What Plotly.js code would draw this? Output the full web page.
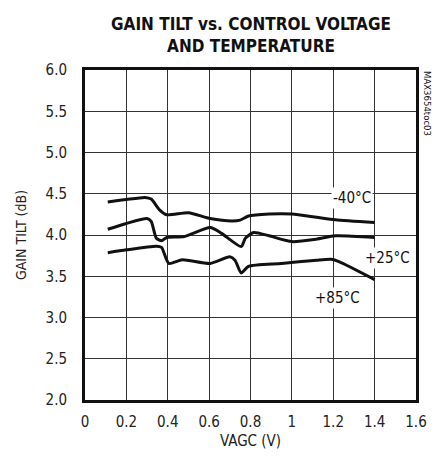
<!DOCTYPE html>
<html>
<head>
<meta charset="utf-8">
<script src="https://cdn.plot.ly/plotly-3.0.1.min.js"></script>
<style>html,body{margin:0;padding:0;background:#fff;}#chart{width:438px;height:462px;}</style>
</head>
<body>
<div id="chart"></div>
<script>
// -40°C
const xM40 = [0.11, 0.20, 0.29, 0.32, 0.36, 0.395, 0.50, 0.605, 0.71, 0.75, 0.79, 0.89, 1.00, 1.12, 1.21, 1.40];
const yM40 = [4.40, 4.43, 4.455, 4.435, 4.305, 4.245, 4.27, 4.20, 4.17, 4.18, 4.23, 4.255, 4.255, 4.215, 4.185, 4.15];
// +25°C
const xP25 = [0.11, 0.20, 0.30, 0.32, 0.345, 0.37, 0.395, 0.48, 0.605, 0.66, 0.755, 0.775, 0.815, 0.89, 1.00, 1.12, 1.21, 1.40];
const yP25 = [4.07, 4.14, 4.20, 4.165, 3.96, 3.93, 3.97, 3.98, 4.09, 4.02, 3.86, 3.96, 4.03, 3.99, 3.92, 3.95, 3.99, 3.97];
// +85°C
const xP85 = [0.11, 0.20, 0.345, 0.37, 0.405, 0.47, 0.605, 0.70, 0.725, 0.755, 0.79, 0.95, 1.12, 1.19, 1.23, 1.40];
const yP85 = [3.785, 3.82, 3.865, 3.85, 3.655, 3.70, 3.655, 3.735, 3.695, 3.54, 3.62, 3.655, 3.695, 3.705, 3.675, 3.46];

const seriesNames = ["-40°C", "+25°C", "+85°C"];
const labelX = [1.29, 1.46, 1.22];
const labelY = [4.45, 3.72, 3.24];

const xTicks = [0, 0.2, 0.4, 0.6, 0.8, 1, 1.2, 1.4, 1.6];
const xTickText = ["0", "0.2", "0.4", "0.6", "0.8", "1", "1.2", "1.4", "1.6"];
const yTicks = [2.0, 2.5, 3.0, 3.5, 4.0, 4.5, 5.0, 5.5, 6.0];
const yTickText = ["2.0", "2.5", "3.0", "3.5", "4.0", "4.5", "5.0", "5.5", "6.0"];

const FONT = "'DejaVu Sans Condensed', 'Liberation Sans Narrow', 'DejaVu Sans', Arial, sans-serif";

const xs = [xM40, xP25, xP85];
const ys = [yM40, yP25, yP85];
const traces = xs.map((x, i) => ({
  x: x, y: ys[i], type: 'scatter', mode: 'lines', name: seriesNames[i],
  line: {color: '#111', width: 3, shape: 'spline', smoothing: 0.6},
  showlegend: false, hoverinfo: 'skip'
}));

const annotations = seriesNames.map((n, i) => ({
  x: labelX[i], y: labelY[i], xref: 'x', yref: 'y', text: n, showarrow: false,
  font: {family: FONT, size: 15, color: '#111'}, bgcolor: '#fff', borderpad: 1
}));
annotations.push({
  x: 1.0, y: 1.0, xref: 'paper', yref: 'paper', xanchor: 'left', yanchor: 'top',
  xshift: 4, yshift: 1, text: 'MAX3654toc03', textangle: 90, showarrow: false,
  font: {family: FONT, size: 9.5, color: '#111'}
});
annotations.push({
  x: 0.5, y: 1.0, xref: 'paper', yref: 'paper', xanchor: 'center', yanchor: 'bottom',
  yshift: 12, xshift: 0,
  text: '<b>GAIN TILT vs. CONTROL VOLTAGE<br>AND TEMPERATURE</b>', showarrow: false,
  font: {family: FONT, size: 17, color: '#111'}
});

const layout = {
  width: 438, height: 462,
  margin: {l: 85, r: 22, t: 70, b: 62},
  paper_bgcolor: '#fff', plot_bgcolor: '#fff',
  xaxis: {
    range: [0, 1.6], tickvals: xTicks, ticktext: xTickText,
    showgrid: true, gridcolor: '#333', gridwidth: 1,
    showline: true, linecolor: '#111', linewidth: 3, mirror: true,
    ticks: '', zeroline: false, fixedrange: true, ticklabelstandoff: 6,
    tickfont: {family: FONT, size: 15, color: '#222'},
    title: {text: 'VAGC (V)', font: {family: FONT, size: 15, color: '#222'}, standoff: 6}
  },
  yaxis: {
    range: [2.0, 6.0], tickvals: yTicks, ticktext: yTickText,
    showgrid: true, gridcolor: '#333', gridwidth: 1,
    showline: true, linecolor: '#111', linewidth: 3, mirror: true,
    ticks: '', zeroline: false, fixedrange: true, ticklabelstandoff: 12,
    tickfont: {family: FONT, size: 15, color: '#222'},
    title: {text: 'GAIN TILT (dB)', font: {family: FONT, size: 14, color: '#222'}, standoff: 16}
  },
  annotations: annotations
};

Plotly.newPlot('chart', traces, layout, {displayModeBar: false, staticPlot: true});
</script>
</body>
</html>
